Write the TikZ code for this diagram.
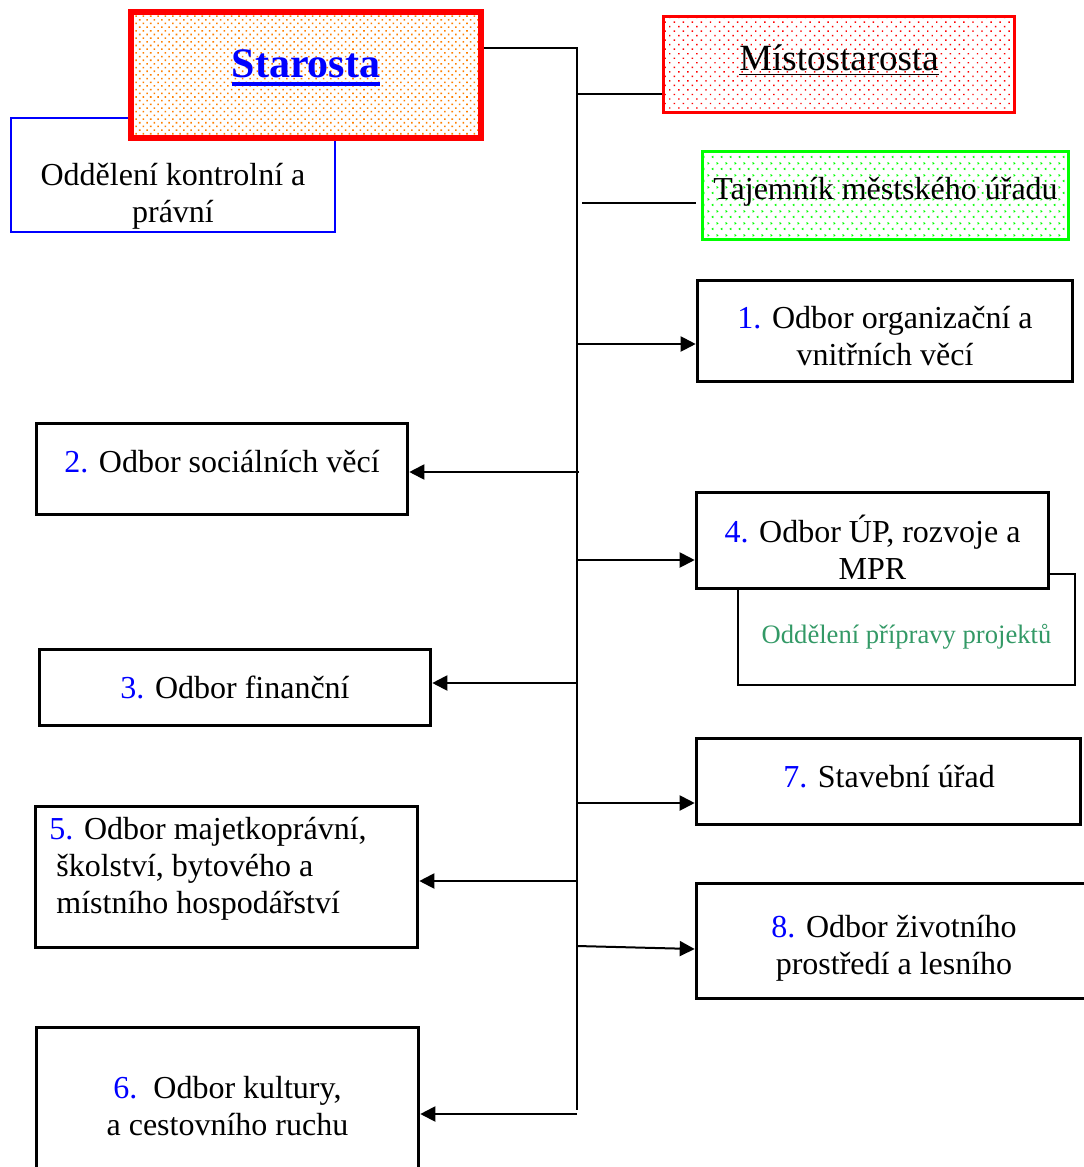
\documentclass[tikz,border=0pt]{standalone}
\usepackage{fontspec}
\setmainfont{Liberation Serif}
\usetikzlibrary{arrows.meta,patterns.meta}

\definecolor{zelena}{RGB}{51,153,102}
\newcommand{\cis}[1]{\textcolor{blue}{#1.}}
% underline: #1 rule, #2 gap, #3 text
\newcommand{\podtrh}[3]{\vtop{\hbox{#3}\kern#2\hrule height#1}}

% green chevron fill of the Tajemnik box
\tikzdeclarepattern{
  name=sipky,
  type=uncolored,
  bounding box={(0,0) and (4.5pt,6pt)},
  tile size={(4.5pt,6pt)},
  code={
    \draw[line width=0.45pt] (1.3pt,0.6pt) -- (0.6pt,1.1pt) -- (1.3pt,1.6pt);
    \draw[line width=0.45pt] (3.1pt,3.6pt) -- (3.8pt,4.1pt) -- (3.1pt,4.6pt);
  }
}

\begin{document}
\begin{tikzpicture}[x=0.5pt,y=-0.5pt,
    box/.style={draw, line width=1.8pt, fill=white, inner sep=0pt},
    txt/.style={font=\fontsize{16}{18.4}\selectfont, align=center, inner sep=0pt},
    vod/.style={line width=1pt},
    sip/.style={line width=1pt, -{Triangle[length=7.5pt,width=7.5pt]}}]
    \useasboundingbox (0,0) rectangle (1083,1167);

    % vedeni
    \node[draw=blue, line width=1pt, inner sep=0pt, minimum width=162pt, minimum height=57pt] (k) at (173,175) {};
    \node[txt] (kt) at (173,196) {Oddělení kontrolní a\\právní};
    \node[box, draw=red, line width=3pt, minimum width=175pt, minimum height=63pt,
          pattern={Dots[angle=45,distance=2.6pt,radius=0.55pt]}, pattern color=orange,
          preaction={fill=white}] (s) at (306,75) {};
    \node[inner sep=0pt, font=\fontsize{21}{24}\selectfont\bfseries, text=blue] (st) at (306,68)
        {\podtrh{1.8pt}{2pt}{Starosta}};
    \node[box, draw=red, line width=1.5pt, minimum width=175.5pt, minimum height=48pt,
          pattern={Dots[angle=45,distance=3.2pt,radius=0.5pt]}, pattern color=red,
          preaction={fill=white}] (m) at (839,64.5) {};
    \node[inner sep=0pt, font=\fontsize{18.5}{21}\selectfont] (mt) at (839,60)
        {\podtrh{0.7pt}{1.5pt}{Místostarosta}};
    \node[box, draw=green, line width=1.5pt, minimum width=183pt, minimum height=44pt,
          pattern=sipky, pattern color=green, preaction={fill=white}] (t) at (885.5,195.5) {};
    \node[txt] (tt) at (885.5,192) {Tajemník městského úřadu};

    % odbory vpravo
    \node[box, minimum width=187.5pt, minimum height=50.5pt] (o1) at (885,331) {};
    \node[txt] (o1t) at (885,336) {\cis{1} Odbor organizační a\\vnitřních věcí};
    \node[draw, line width=1pt, inner sep=0pt, minimum width=168.5pt, minimum height=55.5pt] (opp) at (906.5,629.5) {};
    \node[txt, font=\fontsize{13.3}{16}\selectfont, text=zelena] (oppt) at (906.5,637) {Oddělení přípravy projektů};
    \node[box, minimum width=176pt, minimum height=48pt] (o4) at (872.5,540.5) {};
    \node[txt] (o4t) at (872.5,547) {\cis{4} Odbor ÚP, rozvoje a\\MPR};
    \node[box, minimum width=192pt, minimum height=43pt] (o7) at (888.5,781.5) {};
    \node[txt] (o7t) at (889,777) {\cis{7} Stavební úřad};
    \node[box, minimum width=196pt, minimum height=57.5pt] (o8) at (892.5,941) {};
    \node[txt] (o8t) at (894,948) {\cis{8} Odbor životního\\prostředí a lesního};

    % odbory vlevo
    \node[box, minimum width=185.5pt, minimum height=45.5pt] (o2) at (222,469) {};
    \node[txt] (o2t) at (222,462) {\cis{2} Odbor sociálních věcí};
    \node[box, minimum width=195.5pt, minimum height=38pt] (o3) at (235,687.5) {};
    \node[txt] (o3t) at (235,687) {\cis{3} Odbor finanční};
    \node[box, minimum width=191pt, minimum height=70.5pt] (o5) at (226.5,877) {};
    \node[txt, align=left, anchor=west] (o5t) at (49,869)
        {\cis{5} Odbor majetkoprávní,\\\hspace*{3.5pt}školství, bytového a\\\hspace*{3.5pt}místního hospodářství};
    \node[box, minimum width=191pt, minimum height=80.25pt] (o6) at (227.5,1107.75) {};
    \node[txt] (o6t) at (227.5,1106) {\cis{6}\ \ Odbor kultury,\\a cestovního ruchu};

    % spojnice
    \coordinate (top) at (577,48);
    \coordinate (bot) at (577,1110);
    \draw[vod] (s.east |- top) -- (top) -- (bot);
    \coordinate (jm) at (577,94);
    \coordinate (jt) at (582,203);
    \draw[vod] (jm) -- (jm -| m.west);
    \draw[vod, line width=1.3pt, shorten >=2.5pt] (jt) -- (jt -| t.west);
    \coordinate (j1) at (577,344);
    \coordinate (j2) at (579,472);
    \coordinate (j4) at (577,560);
    \coordinate (j3) at (577,683);
    \coordinate (j7) at (577,803);
    \coordinate (j5) at (577,881);
    \coordinate (j8) at (577,946);
    \coordinate (j6) at (577,1114);
    \draw[sip] (j1) -- (j1 -| o1.west);
    \draw[sip] (j2) -- (j2 -| o2.east);
    \draw[sip] (j4) -- (j4 -| o4.west);
    \draw[sip] (j3) -- (j3 -| o3.east);
    \draw[sip] (j7) -- (j7 -| o7.west);
    \draw[sip] (j5) -- (j5 -| o5.east);
    \draw[sip] (j8) -- ([yshift=-1.5pt]j8 -| o8.west);
    \draw[sip] (j6) -- (j6 -| o6.east);
\end{tikzpicture}
\end{document}
